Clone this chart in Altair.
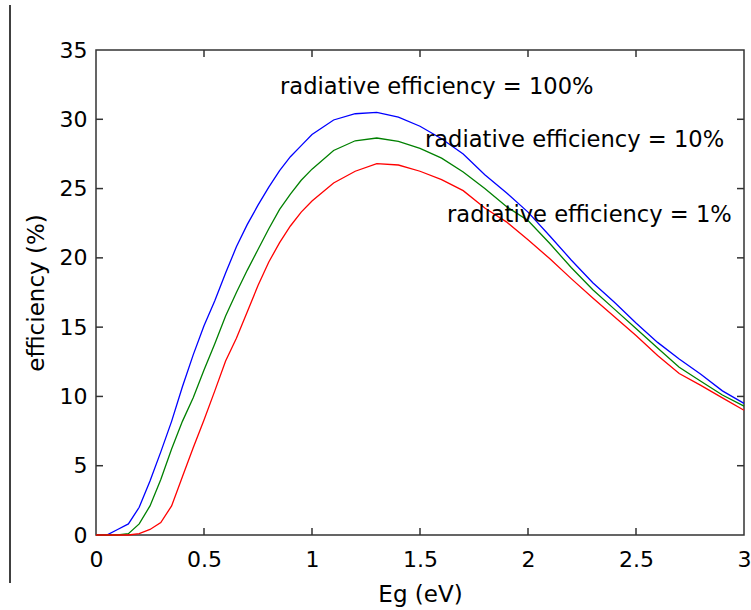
import altair as alt
import pandas as pd

# ---- data ----
eg = [0, 0.05, 0.1, 0.15, 0.2, 0.25, 0.3, 0.35, 0.4, 0.45, 0.5, 0.55, 0.6, 0.65, 0.7,
      0.75, 0.8, 0.85, 0.9, 0.95, 1.0, 1.1, 1.2, 1.3, 1.4, 1.5, 1.6, 1.7, 1.8, 1.9,
      2.0, 2.1, 2.2, 2.3, 2.4, 2.5, 2.6, 2.7, 2.8, 2.9, 3.0]

eff_100 = [0, 0, 0.4, 0.8, 2.0, 3.9, 6.0, 8.2, 10.7, 13.0, 15.1, 16.9, 18.9, 20.8, 22.4,
           23.8, 25.1, 26.3, 27.3, 28.1, 28.9, 29.95, 30.4, 30.5, 30.15, 29.5, 28.6, 27.5,
           26.0, 24.7, 23.3, 21.6, 19.85, 18.2, 16.8, 15.3, 13.9, 12.7, 11.6, 10.4, 9.5]

eff_10 = [0, 0, 0, 0.1, 0.8, 2.1, 4.0, 6.2, 8.2, 9.9, 11.9, 13.8, 15.8, 17.5, 19.1,
          20.6, 22.1, 23.5, 24.6, 25.6, 26.4, 27.75, 28.45, 28.65, 28.4, 27.9, 27.2, 26.2,
          25.0, 23.7, 22.7, 21.05, 19.3, 17.7, 16.3, 14.9, 13.5, 12.1, 11.1, 10.1, 9.3]

eff_1 = [0, 0, 0, 0, 0.1, 0.4, 0.9, 2.1, 4.2, 6.3, 8.3, 10.4, 12.55, 14.2, 16.1,
         18.0, 19.7, 21.1, 22.3, 23.3, 24.1, 25.4, 26.25, 26.8, 26.7, 26.25, 25.65, 24.85,
         23.6, 22.6, 21.3, 19.95, 18.5, 17.1, 15.75, 14.4, 12.95, 11.65, 10.8, 9.9, 9.0]

series_names = ["100%", "10%", "1%"]
series_colors = ["#0000ff", "#008000", "#ff0000"]

label_texts = ["radiative efficiency = 100%", "radiative efficiency = 10%",
               "radiative efficiency = 1%"]
label_x = [0.852, 1.523, 1.625]
label_y = [32.3, 28.5, 23.1]

x_ticks = [0, 0.5, 1, 1.5, 2, 2.5, 3]
y_ticks = [0, 5, 10, 15, 20, 25, 30, 35]

# ---- tables ----
rows = []
for name, vals in zip(series_names, [eff_100, eff_10, eff_1]):
    for e, v in zip(eg, vals):
        rows.append({"Eg": e, "eff": v, "series": name})
df = pd.DataFrame(rows)
labels_df = pd.DataFrame({"text": label_texts, "x": label_x, "y": label_y})
xt_df = pd.DataFrame({"t": x_ticks[1:-1]})
yt_df = pd.DataFrame({"t": y_ticks[1:-1]})

FONT = "DejaVu Sans"
W, H = 648, 485
TL = 7

xscale = alt.Scale(domain=[0, 3], nice=False, zero=False)
yscale = alt.Scale(domain=[0, 35], nice=False)

x_enc = alt.X("Eg:Q", scale=xscale, title="Eg (eV)",
              axis=alt.Axis(values=x_ticks, format="~g", ticks=False, domain=False, grid=False,
                            labelPadding=14, titlePadding=13, labelFont=FONT, titleFont=FONT,
                            labelFontSize=22, titleFontSize=23, titleFontWeight="normal",
                            labelColor="#000000", titleColor="#000000", labelFlush=False))
y_enc = alt.Y("eff:Q", scale=yscale, title="efficiency (%)",
              axis=alt.Axis(values=y_ticks, format="~g", ticks=False, domain=False, grid=False,
                            labelPadding=9, titlePadding=11, labelFont=FONT, titleFont=FONT,
                            labelFontSize=22, titleFontSize=23, titleFontWeight="normal",
                            labelColor="#000000", titleColor="#000000", labelFlush=False))

lines = alt.Chart(df).mark_line(strokeWidth=1.3).encode(
    x=x_enc,
    y=y_enc,
    color=alt.Color("series:N", scale=alt.Scale(domain=series_names, range=series_colors),
                    legend=None),
)

tick_color = "#333333"
bottom_ticks = alt.Chart(xt_df).mark_rule(color=tick_color, strokeWidth=1.5).encode(
    x=alt.X("t:Q", scale=xscale), y=alt.value(H), y2=alt.value(H - TL))
top_ticks = alt.Chart(xt_df).mark_rule(color=tick_color, strokeWidth=1.5).encode(
    x=alt.X("t:Q", scale=xscale), y=alt.value(0), y2=alt.value(TL))
left_ticks = alt.Chart(yt_df).mark_rule(color=tick_color, strokeWidth=1.5).encode(
    y=alt.Y("t:Q", scale=yscale), x=alt.value(0), x2=alt.value(TL))
right_ticks = alt.Chart(yt_df).mark_rule(color=tick_color, strokeWidth=1.5).encode(
    y=alt.Y("t:Q", scale=yscale), x=alt.value(W), x2=alt.value(W - TL))

texts = alt.Chart(labels_df).mark_text(
    align="left", baseline="middle", font=FONT, fontSize=22.6, color="#000000"
).encode(
    x=alt.X("x:Q", scale=xscale),
    y=alt.Y("y:Q", scale=yscale),
    text="text:N",
)

border = alt.Chart(pd.DataFrame({"a": [0]})).mark_rule(color="#000000", strokeWidth=1.5).encode(
    x=alt.value(-86), y=alt.value(-45), y2=alt.value(533))

chart = alt.layer(
    lines, bottom_ticks, top_ticks, left_ticks, right_ticks, texts, border
).properties(
    width=W, height=H,
    autosize=alt.AutoSizeParams(type="none"),
    padding={"left": 96, "top": 50, "right": 7, "bottom": 75},
    background="#ffffff",
).configure_view(
    stroke="#333333", strokeWidth=1.5
)

chart.save("out.html", embed_options={"renderer": "svg", "actions": False})
